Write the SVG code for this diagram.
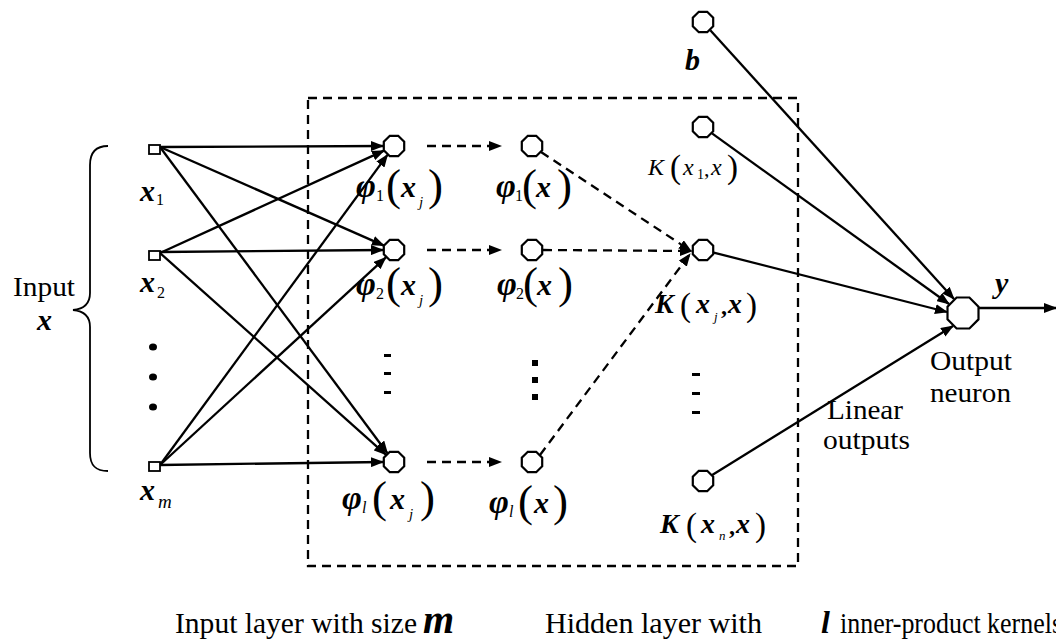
<svg xmlns="http://www.w3.org/2000/svg" xmlns:xlink="http://www.w3.org/1999/xlink" width="1056" height="642" viewBox="0 0 1056 642">
<style>
text{font-family:"Liberation Serif","Times New Roman",serif;fill:#000}
.lbl{font-size:27px}
.bi{font-weight:bold;font-style:italic;font-size:30px}
.phi{font-weight:bold;font-style:italic;font-size:34px}
.kbi{font-weight:bold;font-style:italic;font-size:28px}
.it{font-style:italic}
.sub{font-size:16px}
.par{font-size:45px}
.kpar{font-size:33px}
.node{fill:#fff;stroke:#000;stroke-width:2.2}
.ln{stroke:#000;stroke-width:2.3;fill:none}
.dash{stroke:#000;stroke-width:2.3;fill:none;stroke-dasharray:9 6}
.dot{fill:#000}
</style>
<defs>
<marker id="ah" markerUnits="userSpaceOnUse" markerWidth="13" markerHeight="10" refX="12" refY="5" orient="auto"><path d="M0,0 L13,5 L0,10 z" fill="#000"/></marker>
<polygon id="oct" points="10.2,4.2 4.2,10.2 -4.2,10.2 -10.2,4.2 -10.2,-4.2 -4.2,-10.2 4.2,-10.2 10.2,-4.2"/>
<polygon id="oct2" points="15.5,6.4 6.4,15.5 -6.4,15.5 -15.5,6.4 -15.5,-6.4 -6.4,-15.5 6.4,-15.5 15.5,-6.4"/>
</defs>

<g id="hidden-box">
<rect x="308" y="98" width="490" height="468" class="dash"/>
</g>

<g id="connectors">
<line x1="160" y1="147" x2="383" y2="146" class="ln" marker-end="url(#ah)"/>
<line x1="160" y1="147" x2="384" y2="245.6" class="ln" marker-end="url(#ah)"/>
<line x1="160" y1="147" x2="387.4" y2="453.2" class="ln" marker-end="url(#ah)"/>
<line x1="160" y1="253" x2="384" y2="150.6" class="ln" marker-end="url(#ah)"/>
<line x1="160" y1="252" x2="383" y2="250" class="ln" marker-end="url(#ah)"/>
<line x1="160" y1="253" x2="385.8" y2="454.7" class="ln" marker-end="url(#ah)"/>
<line x1="160" y1="465" x2="387.5" y2="154.9" class="ln" marker-end="url(#ah)"/>
<line x1="160" y1="465" x2="385.9" y2="257.4" class="ln" marker-end="url(#ah)"/>
<line x1="160" y1="465" x2="383" y2="462" class="ln" marker-end="url(#ah)"/>
<line x1="427" y1="146" x2="501" y2="146" class="dash" marker-end="url(#ah)"/>
<line x1="427" y1="250" x2="501" y2="250" class="dash" marker-end="url(#ah)"/>
<line x1="427" y1="462" x2="501" y2="462" class="dash" marker-end="url(#ah)"/>
<line x1="541" y1="152" x2="691" y2="251" class="dash" marker-end="url(#ah)"/>
<line x1="543" y1="250" x2="692" y2="251" class="dash" marker-end="url(#ah)"/>
<line x1="540" y1="455" x2="690" y2="254" class="dash" marker-end="url(#ah)"/>
<line x1="710.3" y1="30.2" x2="954" y2="299" class="ln" marker-end="url(#ah)"/>
<line x1="712" y1="133.4" x2="949" y2="304" class="ln" marker-end="url(#ah)"/>
<line x1="713.7" y1="252.6" x2="947" y2="312" class="ln" marker-end="url(#ah)"/>
<line x1="712.2" y1="475" x2="953" y2="326" class="ln" marker-end="url(#ah)"/>
<line x1="979" y1="308" x2="1056" y2="308" class="ln" marker-end="url(#ah)"/>
</g>

<g id="input-brace">
<path d="M108,146 C96,146 90,152 90,165 L90,293 C90,304 84,309 73,310 C84,311 90,316 90,327 L90,453 C90,466 96,471 108,471" class="ln" style="stroke-width:1.8"/>
<text x="13" y="296" class="lbl" textLength="62" lengthAdjust="spacingAndGlyphs">Input</text>
<text x="37" y="330" class="bi">x</text>
</g>

<g id="x1">
<rect x="149" y="145" width="11" height="9" class="node" style="stroke-width:1.8"/>
<text x="140" y="201" class="bi">x</text><text x="156" y="205" class="sub">1</text>
</g>
<g id="x2">
<rect x="149" y="251" width="11" height="9" class="node" style="stroke-width:1.8"/>
<text x="140" y="292" class="bi">x</text><text x="157" y="298" class="sub">2</text>
</g>
<g id="input-dots">
<ellipse cx="153" cy="347" rx="4" ry="3.5" class="dot"/>
<ellipse cx="153" cy="377" rx="4" ry="3.5" class="dot"/>
<ellipse cx="153" cy="407" rx="4" ry="3.5" class="dot"/>
</g>
<g id="xm">
<rect x="149" y="462" width="11" height="9" class="node" style="stroke-width:1.8"/>
<text x="140" y="500" class="bi">x</text><text x="158" y="508" class="it" style="font-size:19px">m</text>
</g>

<g id="phi1-xj">
<use xlink:href="#oct" x="394" y="146" class="node"/>
<text x="356" y="197" class="phi">φ</text><text x="376" y="201" class="sub">1</text>
<text x="386" y="200" class="par">(</text><text x="401" y="197" class="bi">x</text><text x="419" y="207" class="it" style="font-size:15px">j</text><text x="428" y="200" class="par">)</text>
</g>
<g id="phi2-xj">
<use xlink:href="#oct" x="394" y="250" class="node"/>
<text x="356" y="295" class="phi">φ</text><text x="376" y="299" class="sub">2</text>
<text x="386" y="298" class="par">(</text><text x="401" y="295" class="bi">x</text><text x="419" y="305" class="it" style="font-size:15px">j</text><text x="428" y="298" class="par">)</text>
</g>
<g id="phi-dashes">
<rect x="384" y="354" width="7" height="3" class="dot"/>
<rect x="384" y="372" width="7" height="3" class="dot"/>
<rect x="384" y="391" width="7" height="3" class="dot"/>
</g>
<g id="phil-xj">
<use xlink:href="#oct" x="394" y="462" class="node"/>
<text x="342" y="509" class="phi">φ</text><text x="362" y="513" class="it" style="font-size:16px">l</text>
<text x="372" y="512" class="par">(</text><text x="390" y="509" class="bi">x</text><text x="409" y="519" class="it" style="font-size:15px">j</text><text x="420" y="512" class="par">)</text>
</g>

<g id="phi1-x">
<use xlink:href="#oct" x="532" y="146" class="node"/>
<text x="496" y="197" class="phi">φ</text><text x="515" y="201" class="sub">1</text>
<text x="522" y="200" class="par">(</text><text x="536" y="197" class="bi">x</text><text x="557" y="200" class="par">)</text>
</g>
<g id="phi2-x">
<use xlink:href="#oct" x="532" y="250" class="node"/>
<text x="497" y="295" class="phi">φ</text><text x="516" y="299" class="sub">2</text>
<text x="523" y="298" class="par">(</text><text x="537" y="295" class="bi">x</text><text x="558" y="298" class="par">)</text>
</g>
<g id="phix-dots">
<rect x="532" y="360" width="6" height="6" class="dot"/>
<rect x="532" y="377" width="6" height="6" class="dot"/>
<rect x="532" y="394" width="6" height="6" class="dot"/>
</g>
<g id="phil-x">
<use xlink:href="#oct" x="532" y="462" class="node"/>
<text x="489" y="513" class="phi">φ</text><text x="509" y="517" class="it" style="font-size:16px">l</text>
<text x="518" y="516" class="par">(</text><text x="534" y="513" class="bi">x</text><text x="553" y="516" class="par">)</text>
</g>

<g id="b">
<use xlink:href="#oct" x="703" y="22" class="node"/>
<text x="685" y="70" class="bi">b</text>
</g>
<g id="K1">
<use xlink:href="#oct" x="703" y="127" class="node"/>
<text x="648" y="175" class="it" style="font-size:24px">K</text>
<text x="670" y="178" class="kpar">(</text>
<text x="683" y="175" class="it" style="font-size:24px">x</text><text x="697" y="179" style="font-size:14px">1</text>
<text x="704" y="176" style="font-size:22px">,</text>
<text x="711" y="175" class="it" style="font-size:24px">x</text>
<text x="727" y="178" class="kpar">)</text>
</g>
<g id="Kj">
<use xlink:href="#oct" x="703" y="250" class="node"/>
<text x="655" y="313" class="kbi">K</text>
<text x="680" y="316" class="kpar">(</text>
<text x="696" y="313" class="kbi">x</text><text x="714" y="321" class="it" style="font-size:13px">j</text>
<text x="721" y="314" style="font-size:24px;font-weight:bold">,</text>
<text x="728" y="313" class="kbi">x</text>
<text x="746" y="316" class="kpar">)</text>
</g>
<g id="K-dashes">
<rect x="692" y="373" width="8" height="3" class="dot"/>
<rect x="692" y="392" width="8" height="3" class="dot"/>
<rect x="692" y="411" width="8" height="3" class="dot"/>
</g>
<g id="Kn">
<use xlink:href="#oct" x="703" y="481" class="node"/>
<text x="660" y="533" class="kbi">K</text>
<text x="686" y="536" class="kpar">(</text>
<text x="701" y="533" class="kbi">x</text><text x="719" y="540" class="it" style="font-size:13px">n</text>
<text x="729" y="534" style="font-size:24px;font-weight:bold">,</text>
<text x="736" y="533" class="kbi">x</text>
<text x="755" y="536" class="kpar">)</text>
</g>

<g id="output-neuron">
<use xlink:href="#oct2" x="963" y="313" class="node"/>
<text x="995" y="293" class="bi">y</text>
<text x="930" y="370" class="lbl" textLength="82" lengthAdjust="spacingAndGlyphs">Output</text>
<text x="930" y="402" class="lbl" textLength="81" lengthAdjust="spacingAndGlyphs">neuron</text>
</g>

<g id="linear-outputs">
<text x="827" y="419" class="lbl" textLength="76" lengthAdjust="spacingAndGlyphs">Linear</text>
<text x="823" y="449" class="lbl" textLength="87" lengthAdjust="spacingAndGlyphs">outputs</text>
</g>

<g id="captions">
<text x="175" y="633" class="lbl" style="font-size:29px" textLength="242" lengthAdjust="spacingAndGlyphs">Input layer with size</text>
<text x="423" y="633" class="bi" style="font-size:40px">m</text>
<text x="545" y="633" class="lbl" style="font-size:29px" textLength="217" lengthAdjust="spacingAndGlyphs">Hidden layer with</text>
<text x="821" y="633" class="bi" style="font-size:32px">l</text>
<text x="840" y="633" class="lbl" style="font-size:29px" textLength="222" lengthAdjust="spacingAndGlyphs">inner-product kernels</text>
</g>
</svg>
